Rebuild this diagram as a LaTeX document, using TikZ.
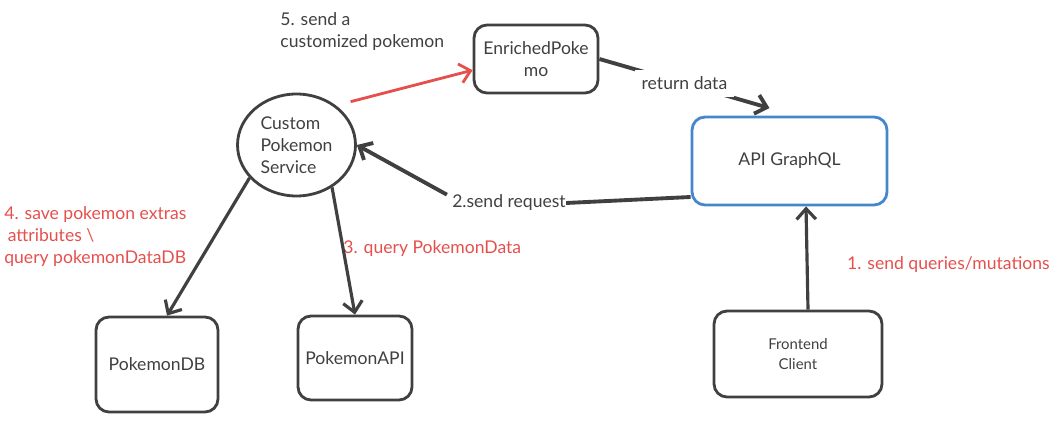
\documentclass[tikz,border=0pt]{standalone}
\usepackage{fontspec}
\setmainfont{Lato}
\usetikzlibrary{arrows.meta,shapes.geometric}
\definecolor{ink}{HTML}{404040}
\definecolor{redink}{HTML}{E5504D}
\definecolor{blueink}{HTML}{4487CD}
\tikzset{
  box/.style={draw=ink, line width=1.6pt, rounded corners=0.26cm, inner sep=0pt, align=center, text=ink},
  flow/.style={draw=ink, line width=2pt, -{Straight Barb[length=6pt,width=11pt]}},
  note/.style={inner sep=0pt, align=left, font=\fontsize{10}{12.5}\selectfont},
}
\begin{document}
\begin{tikzpicture}[x=0.02cm, y=-0.02cm, font=\fontsize{10}{12.5}\selectfont]
        \useasboundingbox (0,0) rectangle (1053,446);

        % services
        \node[box, minimum width=2.48cm, minimum height=1.36cm] (enr) at (536,59) {EnrichedPoke\\mo};
        \node[box, draw=blueink, minimum width=3.9cm, minimum height=1.76cm] (api) at (789.5,161) {\raisebox{-0.25cm}{API GraphQL}};
        \node[box, minimum width=3.36cm, minimum height=1.72cm, font=\fontsize{8.5}{11}\selectfont] (fe) at (798,354) {Frontend\\Client};
        \node[box, minimum width=2.44cm, minimum height=1.9cm] (db) at (157,364.5) {\raisebox{-0.2cm}{PokemonDB}};
        \node[box, minimum width=2.28cm, minimum height=1.68cm] (papi) at (355,358) {PokemonAPI};
        \node[ellipse, draw=ink, line width=1.6pt, minimum width=2.36cm, minimum height=2.04cm, inner sep=0pt, align=left, text=ink] (svc) at (296.5,145) {Custom\\Pokemon\\Service};

        % labels
        \node[note, anchor=north west, text=ink] (l5) at (280,12) {5. send a\\customized pokemon};
        \node[note, anchor=north west, text=redink] (l4) at (4,206) {4. save pokemon extras\\\hspace{2pt}attributes \textbackslash\\query pokemonDataDB};
        \node[note, anchor=west, text=redink] (l3) at (343,249) {3. query PokemonData};
        \node[note, anchor=east, text=redink] (l1) at (1050,265) {1. send queries/mutations};
        \node[note, text=ink] (l2) at (509,203) {2.send request};

        % arrows
        \draw[flow, draw=redink, line width=1.6pt, shorten <=0.3cm] (svc.45) -- (enr.190);
        \draw[flow, line width=2.2pt] (enr.east) -- node[fill=white, inner sep=4pt, text=ink] (lret) {return data} ([xshift=-0.4cm, yshift=0.15cm]api.north);
        \draw[draw=ink, line width=2.2pt] (api.200) -- (l2.east);
        \draw[flow, line width=2.2pt] ([xshift=-0.1cm]l2.north west) -- (svc.east);
        \draw[flow, line width=1.8pt] (svc.215) -- ([xshift=0.2cm]db.north);
        \draw[flow, line width=1.8pt] (svc.310) -- (papi.north);
        \draw[flow, line width=1.8pt] ([xshift=0.2cm]fe.north) -- ([xshift=0.33cm]api.south);

\end{tikzpicture}
\end{document}
